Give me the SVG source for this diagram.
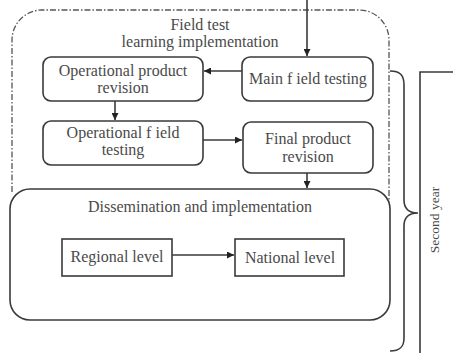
<svg xmlns="http://www.w3.org/2000/svg" width="453" height="353" viewBox="0 0 453 353" font-family="Liberation Serif, Times New Roman, serif">
<style>
  .box { fill: #fff; stroke: #3a3a3a; stroke-width: 1.6; }
  text { font-family: "Liberation Serif", "Times New Roman", serif; }
  .t { font-size: 16px; fill: #4a4a4a; text-anchor: middle; }
  .side { font-size: 13.5px; }
  .conn { stroke: #3a3a3a; stroke-width: 1.6; fill: none; }
  .dash { stroke: #555; stroke-width: 1.3; fill: none; stroke-dasharray: 6 2 1.5 2; }
</style>
<defs>
  <marker id="arr" viewBox="0 0 10 10" refX="10" refY="5" markerWidth="7" markerHeight="7" markerUnits="userSpaceOnUse" orient="auto">
    <path d="M0,0 L10,5 L0,10 Z" fill="#222"/>
  </marker>
</defs>
<rect width="453" height="353" fill="#fff"/>

<g id="field-test-frame">
  <path class="dash" d="M12,192 V40 A30,30 0 0 1 42,10 H359 A30,30 0 0 1 389,40 V202"/>
  <text class="t" x="200" y="30">Field test</text>
  <text class="t" x="200" y="47">learning implementation</text>
</g>

<g id="dissemination">
  <rect class="box" x="10" y="189" width="380" height="131" rx="20"/>
  <text class="t" x="200" y="212">Dissemination and implementation</text>
</g>

<g id="op-product-revision">
  <rect class="box" x="43" y="57" width="160" height="44" rx="8"/>
  <text class="t" x="123" y="76">Operational product</text>
  <text class="t" x="123" y="93">revision</text>
</g>

<g id="main-field-testing">
  <rect class="box" x="242" y="57" width="131" height="44" rx="8"/>
  <text class="t" x="308" y="84">Main f ield testing</text>
</g>

<g id="op-field-testing">
  <rect class="box" x="43" y="121" width="160" height="44" rx="8"/>
  <text class="t" x="123" y="138">Operational f ield</text>
  <text class="t" x="123" y="155">testing</text>
</g>

<g id="final-product-revision">
  <rect class="box" x="243" y="122" width="130" height="51" rx="8"/>
  <text class="t" x="308" y="144">Final product</text>
  <text class="t" x="308" y="162">revision</text>
</g>

<g id="regional-level">
  <rect class="box" x="62" y="239" width="110" height="37"/>
  <text class="t" x="117" y="262">Regional level</text>
</g>

<g id="national-level">
  <rect class="box" x="235" y="239" width="109" height="37"/>
  <text class="t" x="290" y="263">National level</text>
</g>

<g id="second-year">
  <path class="conn" d="M390,71 C400,71 404,75 404,85 V200 C404,208 408,213 418,213 C408,213 404,218 404,226 V338 C404,347 400,351 390,351"/>
  <path class="conn" d="M453,72 H420 V353"/>
  <text class="t side" transform="translate(439,220) rotate(-90)">Second year</text>
</g>

<g id="connectors">
  <line class="conn" x1="307" y1="0" x2="307" y2="56" marker-end="url(#arr)"/>
  <line class="conn" x1="242" y1="71" x2="204" y2="71" marker-end="url(#arr)"/>
  <line class="conn" x1="115" y1="101" x2="115" y2="120" marker-end="url(#arr)"/>
  <line class="conn" x1="203" y1="140" x2="242" y2="140" marker-end="url(#arr)"/>
  <line class="conn" x1="307" y1="173" x2="307" y2="188" marker-end="url(#arr)"/>
  <line class="conn" x1="172" y1="255" x2="234" y2="255" marker-end="url(#arr)"/>
</g>
</svg>
